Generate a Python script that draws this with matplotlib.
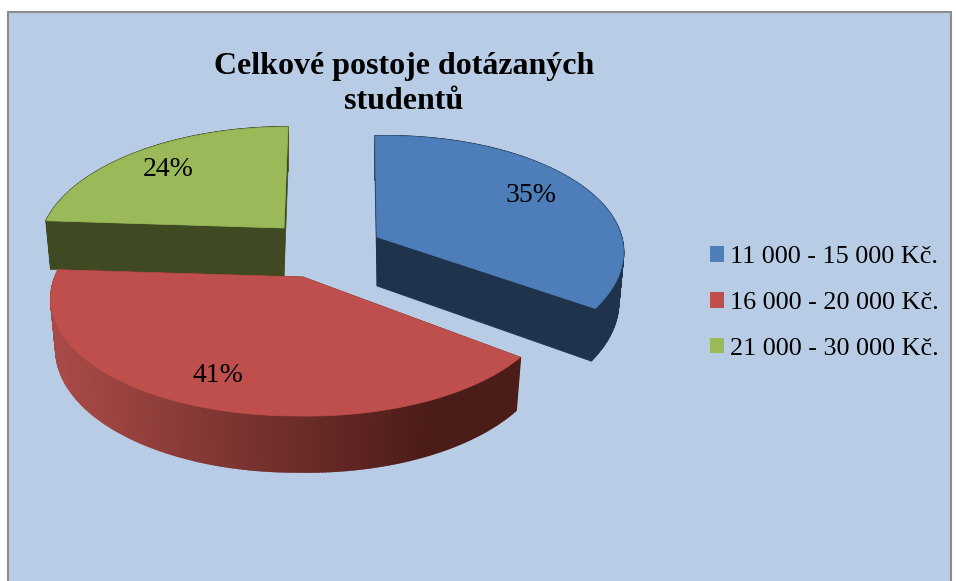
import numpy as np
import matplotlib
matplotlib.use("Agg")
import matplotlib.pyplot as plt
from matplotlib.patches import Polygon, Rectangle, Patch

plt.rcParams['font.family'] = ['Liberation Serif', 'DejaVu Serif']

title = "Celkové postoje dotázaných\nstudentů"
labels = ["11 000 - 15 000 Kč.", "16 000 - 20 000 Kč.", "21 000 - 30 000 Kč."]
shares = [35, 41, 24]

top_colors = ["#4D7EBA", "#BE4F4C", "#9ABA59"]
wall_colors = ["#1F334D", "#5A201D", "#404A22"]
bg = "#B8CDE5"

# where each exploded slice sits, picture pixels
centers = [(377, 237), (303, 277), (284, 228)]
rx_list = [243, 248, 241]
shear = [0.02, -0.05, -0.04]
tilt = [-0.02, 0.02, 0.0]
text_pos = [(531, 195), (218, 376), (168, 170)]

ry = 117
k = 0.158


def rim(i, th):
    # th in degrees, clockwise from 12 o'clock, with a bit of perspective
    t = np.radians(th)
    p = 1 / (1 + k * np.cos(t))
    dx = rx_list[i] * np.sin(t) * p
    dy = -ry * np.cos(t) * p
    return centers[i][0] + dx + shear[i] * dy, centers[i][1] + dy + tilt[i] * np.maximum(dx, 0)


def down(i, x, y):
    # same point on the lower edge of the slice
    dy = y - centers[i][1]
    return centers[i][0] + 0.98 * (x - centers[i][0]), y + 49 + 0.05 * dy


fig = plt.figure(figsize=(9.56, 5.81), dpi=100)
ax = fig.add_axes([0, 0, 1, 1])
ax.set_xlim(0, 956)
ax.set_ylim(581, 0)
ax.axis("off")

ax.add_patch(Rectangle((8, 12), 943, 590, facecolor=bg, edgecolor="#8C8C8C", linewidth=1.5))

edges = np.cumsum([0] + shares) / sum(shares) * 360

# back to front: green, red, blue
for i in [2, 1, 0]:
    a, b = edges[i], edges[i + 1]
    th = np.linspace(a, b, 240)
    xs, ys = rim(i, th)
    xd, yd = down(i, xs, ys)
    cx, cy = centers[i]
    cxd, cyd = down(i, cx, cy)

    # flat cut walls
    for j in [0, -1]:
        wall = [(cx, cy), (xs[j], ys[j]), (xd[j], yd[j]), (cxd, cyd)]
        ax.add_patch(Polygon(wall, closed=True, facecolor=wall_colors[i], edgecolor=wall_colors[i], linewidth=0.5))

    # outer side, the red one gets the gradient
    for j in range(len(th) - 1):
        if i == 1:
            f = np.clip((xs[j] - 60) / 370, 0, 1)
            c0 = np.array(matplotlib.colors.to_rgb("#A84A47"))
            c1 = np.array(matplotlib.colors.to_rgb("#4C1C19"))
            col = c0 + (c1 - c0) * f
        else:
            col = wall_colors[i]
        quad = [(xs[j], ys[j]), (xs[j + 1], ys[j + 1]), (xd[j + 1], yd[j + 1]), (xd[j], yd[j])]
        ax.add_patch(Polygon(quad, closed=True, facecolor=col, edgecolor=col, linewidth=1.2))

    face = [(cx, cy)] + list(zip(xs, ys))
    ax.add_patch(Polygon(face, closed=True, facecolor=top_colors[i], edgecolor=top_colors[i], linewidth=0.5))

for i in range(3):
    ax.text(text_pos[i][0], text_pos[i][1], f"{shares[i]}%", fontsize=20, ha="center", va="center", color="black")

ax.text(404, 84, title, fontsize=23, fontweight="bold", ha="center", va="center", linespacing=1.3, color="black")

handles = [Patch(facecolor=c, edgecolor="none") for c in top_colors]
ax.legend(handles, labels, loc="center left", bbox_to_anchor=(702 / 956, 1 - 303 / 581), frameon=False,
          fontsize=18.8, handlelength=0.55, handleheight=0.55, handletextpad=0.22, labelspacing=0.9,
          borderpad=0, borderaxespad=0.3)

fig.savefig("out.png", dpi=100)
